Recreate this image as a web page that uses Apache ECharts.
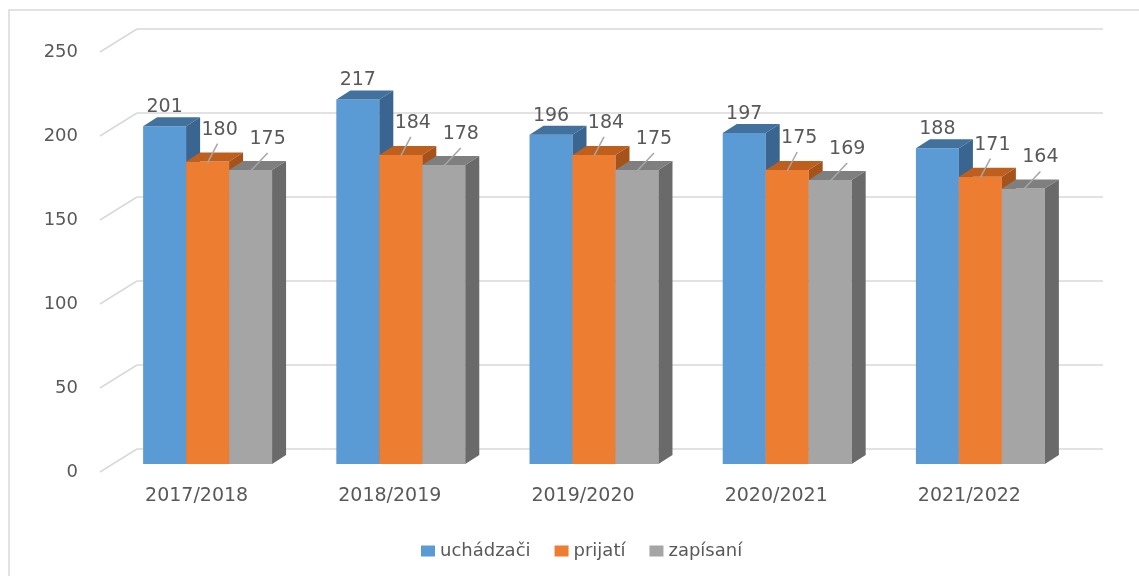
<!DOCTYPE html>
<html><head><meta charset="utf-8">
<script src="https://cdn.jsdelivr.net/npm/echarts@6/dist/echarts.min.js"></script>
<style>html,body{margin:0;padding:0;background:#fff}#c{width:1139px;height:576px}</style>
</head><body><div id="c"></div>
<script>
const categories = ['2017/2018','2018/2019','2019/2020','2020/2021','2021/2022'];
const uchadzaci = [201,217,196,197,188];
const prijati = [180,184,184,175,171];
const zapisani = [175,178,175,169,164];
const seriesNames = ['uchádzači','prijatí','zapísaní'];
const yTicks = [0,50,100,150,200,250];

const FONT = 'DejaVu Sans';
const TXT = '#595959';
const GRIDC = '#D9D9D9';
const faces = [
  {front:'#5B9BD5', top:'#41719C', side:'#3A6590'},
  {front:'#ED7D31', top:'#BE5F1E', side:'#A5531A'},
  {front:'#A5A5A5', top:'#7F7F7F', side:'#6A6A6A'}
];
const DEPTH = [14,-9];
const labelPos = [
  {lead:null, text:[0,-19]},
  {lead:[10,-18], text:[12,-32]},
  {lead:[17,-17], text:[17,-31]}
];

function makeRender(k){
  return function(params, api){
    const cat = api.value(0), val = api.value(1);
    const top = api.coord([cat, val]);
    const base = api.coord([cat, 0]);
    const band = api.size([1,0])[0];
    const bw = band*0.2225;
    const cx = top[0] + (k-1)*bw;
    const x0 = cx - bw/2, x1 = cx + bw/2;
    const yT = top[1], yB = base[1];
    const dx = DEPTH[0], dy = DEPTH[1];
    const f = faces[k];
    const children = [
      {type:'rect', shape:{x:x0,y:yT,width:bw,height:yB-yT}, style:{fill:f.front}},
      {type:'polygon', shape:{points:[[x0,yT],[x1,yT],[x1+dx,yT+dy],[x0+dx,yT+dy]]}, style:{fill:f.top}},
      {type:'polygon', shape:{points:[[x1,yT],[x1+dx,yT+dy],[x1+dx,yB+dy],[x1,yB]]}, style:{fill:f.side}}
    ];
    const lp = labelPos[k];
    if (lp.lead) {
      children.push({type:'line', shape:{x1:cx, y1:yT+1, x2:cx+lp.lead[0], y2:yT+lp.lead[1]},
        style:{stroke:'#A6A6A6', lineWidth:1.5}});
    }
    children.push({type:'text', x:cx+lp.text[0], y:yT+lp.text[1],
      style:{text:String(val), fill:TXT, font:'19px "'+FONT+'"', align:'center', verticalAlign:'middle'}});
    return {type:'group', children};
  };
}

const seriesData = [uchadzaci, prijati, zapisani];
const barSeries = seriesData.map((arr,k)=>({
  type:'custom', name:seriesNames[k], xAxisIndex:1, yAxisIndex:1,
  itemStyle:{color:faces[k].front},
  renderItem:makeRender(k), clip:false, z:3,
  encode:{x:0,y:1},
  data:arr.map((v,i)=>[i,v])
}));

const chart = echarts.init(document.getElementById('c'));
chart.setOption({
  animation:false,
  backgroundColor:'#fff',
  textStyle:{fontFamily:FONT},
  graphic:[{type:'rect', shape:{x:9,y:10,width:1200,height:600}, style:{fill:'none', stroke:GRIDC, lineWidth:1.5}, z:-10}],
  grid:[
    {left:137, top:29, width:966, height:420},
    {left:111, top:44, width:966, height:420},
    {left:100, top:52, width:966, height:420}
  ],
  xAxis:[
    {gridIndex:0, type:'category', data:categories, show:false},
    {gridIndex:1, type:'category', data:categories, show:false},
    {gridIndex:2, type:'category', data:categories, axisLine:{show:false}, axisTick:{show:false},
      axisLabel:{margin:15, fontSize:19, color:TXT, fontFamily:FONT}}
  ],
  yAxis:[
    {gridIndex:0, type:'value', min:0, max:250, interval:50, axisLabel:{show:false}, axisLine:{show:false}, axisTick:{show:false},
      splitLine:{show:true, lineStyle:{color:GRIDC, width:1.5}}},
    {gridIndex:1, type:'value', min:0, max:250, interval:50, show:false, splitLine:{show:false}},
    {gridIndex:2, type:'value', min:0, max:250, interval:50, axisLine:{show:false}, axisTick:{show:false},
      splitLine:{show:false}, axisLabel:{margin:22, fontSize:18, color:TXT, fontFamily:FONT}}
  ],
  legend:{
    data:seriesNames, left:421, top:542, padding:0, icon:'rect', itemWidth:14, itemHeight:11, itemGap:24,
    textStyle:{fontSize:18, color:TXT, fontFamily:FONT}
  },
  series:[
    {type:'custom', name:'diag', xAxisIndex:2, yAxisIndex:2, clip:false, z:1, silent:true,
      encode:{x:0,y:1},
      data:yTicks.map(v=>[0,v]),
      renderItem:function(params, api){
        const p = api.coord([0, api.value(1)]);
        const x = params.coordSys.x;
        return {type:'line', shape:{x1:x, y1:p[1], x2:x+37, y2:p[1]-23}, style:{stroke:GRIDC, lineWidth:1.5}};
      }
    }
  ].concat(barSeries)
});
</script>
</body></html>
